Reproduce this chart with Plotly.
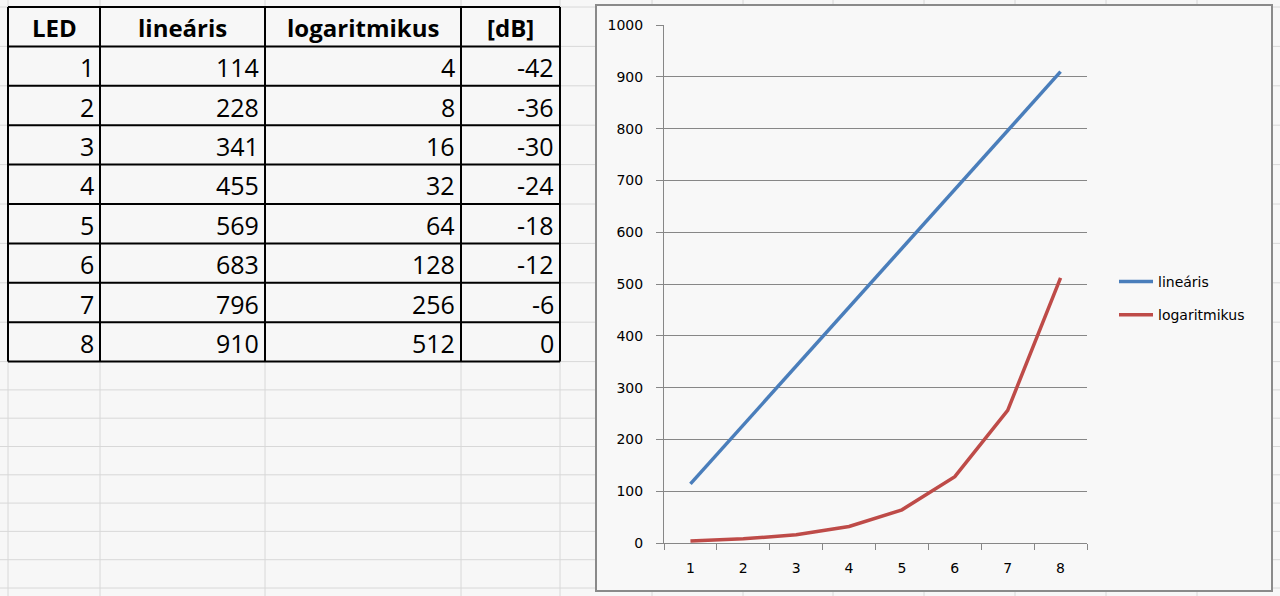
import plotly.graph_objects as go

# ---- data ----
led = [1, 2, 3, 4, 5, 6, 7, 8]
linearis = [114, 228, 341, 455, 569, 683, 796, 910]
logaritmikus = [4, 8, 16, 32, 64, 128, 256, 512]
db = [-42, -36, -30, -24, -18, -12, -6, 0]
headers = ["LED", "lineáris", "logaritmikus", "[dB]"]
series_names = ["lineáris", "logaritmikus"]
y_ticks = list(range(0, 1001, 100))

W, H = 1280, 596


def px(x):
    return x / W


def py(y):
    return 1 - y / H


SHEET_BG = "#f7f7f7"
SHEET_GRID = "#d8d8d8"
CHART_BG = "#f8f8f8"
AXIS_GRAY = "#878787"

fig = go.Figure()
cats = [str(v) for v in led]
fig.add_trace(go.Scatter(x=cats, y=linearis, name=series_names[0], mode="lines",
                         line=dict(color="#4A7EBB", width=3.5), legendgroup="a"))
fig.add_trace(go.Scatter(x=cats, y=logaritmikus, name=series_names[1], mode="lines",
                         line=dict(color="#BE4B48", width=3.5), legendgroup="b"))

shapes = []
# sheet grid
col_lines = [8, 100, 265, 461, 560, 652, 743, 833, 924, 1015, 1106, 1197]
row_lines = [7 + 39.4 * k for k in range(10)]
row_lines += [row_lines[-1] + 28.3 * k for k in range(1, 9)]
for x in col_lines:
    shapes.append(dict(type="line", xref="paper", yref="paper", x0=px(x), x1=px(x), y0=0, y1=1,
                       line=dict(color=SHEET_GRID, width=1), layer="below"))
for y in row_lines:
    shapes.append(dict(type="line", xref="paper", yref="paper", x0=0, x1=1, y0=py(y), y1=py(y),
                       line=dict(color=SHEET_GRID, width=1), layer="below"))
# chart area
shapes.append(dict(type="rect", xref="paper", yref="paper", x0=px(596), x1=px(1272), y0=py(591), y1=py(5),
                   fillcolor=CHART_BG, line=dict(color="#8a8a8a", width=2), layer="below"))
# table borders
tcols = [8, 100, 265, 461, 560]
trows = [7 + 39.4 * k for k in range(10)]
for x in tcols:
    shapes.append(dict(type="line", xref="paper", yref="paper", x0=px(x), x1=px(x), y0=py(trows[0]), y1=py(trows[-1]),
                       line=dict(color="black", width=2), layer="below"))
for y in trows:
    shapes.append(dict(type="line", xref="paper", yref="paper", x0=px(tcols[0]), x1=px(tcols[-1]), y0=py(y), y1=py(y),
                       line=dict(color="black", width=2), layer="below"))

annotations = []
for i, h in enumerate(headers):
    annotations.append(dict(text=f"<b>{h}</b>", xref="paper", yref="paper",
                            x=px((tcols[i] + tcols[i + 1]) / 2), y=py((trows[0] + trows[1]) / 2 + 1),
                            xanchor="center", yanchor="middle", showarrow=False,
                            font=dict(family="Open Sans", size=24, color="black")))
table_cols = [led, linearis, logaritmikus, db]
for r in range(len(led)):
    for c in range(4):
        annotations.append(dict(text=str(table_cols[c][r]), xref="paper", yref="paper",
                                x=px(tcols[c + 1] - 4), y=py((trows[r + 1] + trows[r + 2]) / 2 + 1),
                                xanchor="right", yanchor="middle", showarrow=False,
                                font=dict(family="Open Sans", size=25, color="black")))

fig.update_layout(
    width=W, height=H, autosize=False,
    margin=dict(l=0, r=0, t=0, b=0, pad=0, autoexpand=False),
    paper_bgcolor=SHEET_BG, plot_bgcolor="rgba(0,0,0,0)",
    shapes=shapes, annotations=annotations,
    xaxis=dict(type="category", categoryorder="array", categoryarray=cats,
               domain=[px(664), px(1087)], range=[-0.5, 7.5], automargin=False,
               tickson="boundaries", ticks="outside", ticklen=6, tickcolor=AXIS_GRAY, tickwidth=1,
               showline=True, linecolor=AXIS_GRAY, linewidth=1, showgrid=False, zeroline=False,
               ticklabelstandoff=12,
               tickfont=dict(family="DejaVu Sans", size=14, color="black")),
    yaxis=dict(domain=[py(543), py(25)], range=[0, 1000], tickvals=y_ticks, automargin=False,
               ticks="outside", ticklen=7, tickcolor=AXIS_GRAY, tickwidth=1,
               showline=True, linecolor=AXIS_GRAY, linewidth=1,
               showgrid=True, gridcolor=AXIS_GRAY, gridwidth=1, zeroline=False,
               ticklabelstandoff=10,
               tickfont=dict(family="DejaVu Sans", size=14, color="black")),
    legend=dict(x=px(1114), y=py(266), xanchor="left", yanchor="top",
                bgcolor="rgba(0,0,0,0)", itemwidth=34, tracegroupgap=12,
                font=dict(family="DejaVu Sans", size=14, color="black")),
    showlegend=True,
)

fig.write_html("out.html", config={"displayModeBar": False},
               post_script="document.body.style.margin='0';document.body.style.padding='0';")
